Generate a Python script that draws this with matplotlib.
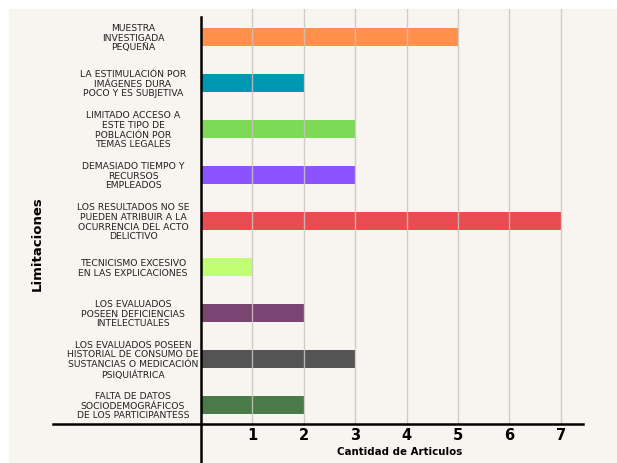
import matplotlib.pyplot as plt
from matplotlib.patches import Rectangle
from matplotlib.lines import Line2D
import matplotlib.transforms as mtransforms

limitaciones = [
    "MUESTRA\nINVESTIGADA\nPEQUEÑA",
    "LA ESTIMULACIÓN POR\nIMÁGENES DURA\nPOCO Y ES SUBJETIVA",
    "LIMITADO ACCESO A\nESTE TIPO DE\nPOBLACIÓN POR\nTEMAS LEGALES",
    "DEMASIADO TIEMPO Y\nRECURSOS\nEMPLEADOS",
    "LOS RESULTADOS NO SE\nPUEDEN ATRIBUIR A LA\nOCURRENCIA DEL ACTO\nDELICTIVO",
    "TECNICISMO EXCESIVO\nEN LAS EXPLICACIONES",
    "LOS EVALUADOS\nPOSEEN DEFICIENCIAS\nINTELECTUALES",
    "LOS EVALUADOS POSEEN\nHISTORIAL DE CONSUMO DE\nSUSTANCIAS O MEDICACIÓN\nPSIQUIÁTRICA",
    "FALTA DE DATOS\nSOCIODEMOGRÁFICOS\nDE LOS PARTICIPANTESS",
]
articulos = [5, 2, 3, 3, 7, 1, 2, 3, 2]
colores = ["#FF914D", "#0097B2", "#7ED957", "#8C52FF", "#E84C50",
           "#C1FF72", "#7A4572", "#545454", "#4A7A48"]
xticks = [1, 2, 3, 4, 5, 6, 7]

W, H = 617, 464
fig = plt.figure(figsize=(W / 100, H / 100), dpi=100, facecolor="white")

# cream panel behind everything
fig.patches.append(Rectangle((9 / W, 0), 1 - 9 / W, 1 - 10 / H,
                             transform=fig.transFigure, color="#F8F5F0", zorder=-10))

ax = fig.add_axes([201 / W, 1 - 425 / H, (584 - 201) / W, (425 - 10) / H])
ax.set_facecolor("none")
ax.set_zorder(1)

pos = list(range(len(limitaciones)))
ax.barh(pos, articulos, height=0.4, color=colores, zorder=2)
for x in xticks:
    ax.axvline(x, color="#c9c4bd", lw=1, alpha=0.85, zorder=3)

ax.set_xlim(0, 7.45)
ax.set_ylim(8.41, -0.61)
for s in ax.spines.values():
    s.set_visible(False)

ax.set_yticks([])
ax.set_xticks(xticks)
ax.set_xticklabels([str(x) for x in xticks], fontsize=10.5, fontweight="heavy")
ax.tick_params(axis="x", length=0, pad=2)

# category labels, centred in the left margin
trans = mtransforms.blended_transform_factory(fig.transFigure, ax.transData)
for p, lab in zip(pos, limitaciones):
    ax.text(133 / W, p, lab, transform=trans, ha="center", va="center",
            fontsize=6.7, linespacing=1.12, color="#222222", clip_on=False,
            family=["Liberation Sans Narrow", "DejaVu Sans"])

# axis lines that run past the plot area
fig.lines.append(Line2D([201 / W, 201 / W], [1 - 18 / H, 0],
                        transform=fig.transFigure, color="black", lw=1.8, zorder=5))
fig.lines.append(Line2D([53 / W, 583 / W], [1 - 425 / H, 1 - 425 / H],
                        transform=fig.transFigure, color="black", lw=1.8, zorder=5))

fig.text(37 / W, 1 - 244 / H, "Limitaciones", rotation=90, ha="center",
         va="center", fontsize=9.5, fontweight="bold")
fig.text(400 / W, 1 - 452 / H, "Cantidad de Articulos", ha="center",
         va="center", fontsize=7.4, fontweight="bold")

fig.savefig("out.png", dpi=100, facecolor="white")
